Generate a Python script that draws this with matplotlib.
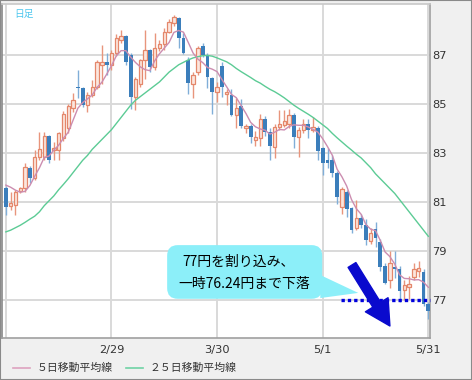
import matplotlib
matplotlib.use('Agg')
import matplotlib.pyplot as plt
from matplotlib.patches import FancyBboxPatch, Polygon, Rectangle
from matplotlib.lines import Line2D
import numpy as np
import pandas as pd

plt.rcParams['font.family'] = ['Noto Sans CJK JP', 'DejaVu Sans']

# daily candles, 2012-01-30 .. 2012-05-31
dates = pd.bdate_range('2012-01-30', '2012-05-31')

opens = [81.57, 80.84, 80.88, 81.45, 81.57, 82.39, 81.98, 82.84, 82.84, 83.69,
         83.12, 83.12, 83.60, 84.00, 84.84, 85.70, 85.65, 84.96, 85.37, 85.70,
         86.60, 86.70, 86.60, 87.10, 87.60, 87.78, 87.00, 85.30, 85.80, 86.80,
         87.20, 86.50, 87.30, 87.45, 87.95, 88.30, 88.50, 87.70, 86.80, 85.80,
         86.30, 87.35, 87.00, 86.05, 85.50, 86.55, 85.40, 85.37, 84.55, 84.90,
         84.00, 84.10, 83.55, 83.60, 84.40, 83.85, 83.25, 84.05, 84.15, 84.20,
         84.55, 83.65, 83.95, 84.20, 83.95, 84.00, 83.20, 82.70, 82.70, 82.20,
         80.80, 81.40, 80.75, 79.95, 80.35, 80.05, 79.40, 79.90, 79.35, 78.40,
         77.80, 78.35, 78.25, 77.40, 77.55, 77.95, 78.20, 78.15, 76.85]
highs = [81.65, 81.41, 81.49, 81.61, 82.59, 82.47, 83.12, 83.86, 83.86, 83.73,
         83.45, 83.86, 84.70, 85.00, 85.45, 86.39, 85.70, 85.49, 85.98, 86.80,
         87.40, 87.10, 87.20, 87.85, 88.00, 87.80, 87.10, 86.10, 86.85, 88.00,
         87.25, 87.90, 87.60, 88.10, 88.45, 88.65, 88.55, 87.90, 86.90, 86.30,
         87.35, 87.50, 87.10, 86.10, 85.90, 86.70, 85.60, 85.60, 85.25, 85.20,
         84.20, 84.20, 83.90, 84.60, 84.50, 84.00, 84.20, 84.75, 84.75, 84.80,
         84.65, 84.05, 84.40, 84.40, 84.45, 84.10, 83.25, 83.20, 82.90, 82.25,
         81.60, 81.50, 80.80, 81.10, 80.50, 80.30, 79.95, 80.20, 79.50, 78.50,
         79.00, 79.00, 78.40, 77.80, 78.00, 78.50, 78.60, 78.25, 76.90]
lows = [80.47, 80.67, 80.47, 81.37, 81.41, 81.78, 81.90, 82.71, 82.71, 82.59,
        82.71, 82.71, 83.50, 83.80, 84.67, 85.24, 84.88, 84.67, 85.29, 85.60,
        85.80, 86.20, 86.40, 86.95, 87.50, 86.60, 84.80, 84.75, 85.70, 86.00,
        86.30, 86.40, 87.15, 87.20, 87.90, 88.20, 87.30, 87.05, 85.40, 85.25,
        86.20, 86.90, 85.65, 84.60, 85.10, 85.30, 84.95, 84.50, 84.00, 84.00,
        83.80, 83.40, 83.30, 83.30, 83.70, 82.70, 82.80, 83.95, 84.05, 84.00,
        83.20, 82.85, 83.80, 83.60, 83.85, 82.70, 82.10, 82.40, 82.00, 80.90,
        80.50, 80.40, 79.75, 79.85, 79.95, 79.25, 79.30, 79.15, 78.20, 77.65,
        77.50, 77.90, 76.90, 77.00, 77.05, 77.80, 77.95, 76.75, 76.24]
closes = [80.80, 80.96, 81.41, 81.57, 82.43, 81.98, 82.84, 83.16, 83.69, 82.71,
          83.20, 83.82, 84.60, 84.90, 85.16, 85.65, 84.96, 85.37, 85.70, 86.70,
          86.70, 86.60, 87.10, 87.70, 87.78, 86.70, 85.30, 86.00, 86.80, 87.20,
          86.50, 87.30, 87.45, 87.95, 88.35, 88.55, 87.70, 87.10, 85.85, 86.20,
          87.30, 87.00, 86.10, 85.50, 85.70, 85.70, 85.50, 84.55, 84.84, 84.10,
          84.10, 83.65, 83.65, 84.40, 83.85, 83.30, 84.05, 84.20, 84.30, 84.55,
          83.65, 83.95, 84.20, 83.95, 84.05, 83.10, 82.60, 82.60, 82.20, 81.20,
          81.55, 80.70, 79.85, 80.35, 80.05, 79.45, 79.75, 79.55, 78.35, 77.70,
          78.50, 78.25, 77.35, 77.60, 77.65, 78.25, 78.30, 76.85, 76.55]
# closes of the four days before the window (for the 5-day average)
prev_closes = [81.4, 82.0, 82.0, 82.25]

ma25 = [79.78, 79.85, 79.95, 80.05, 80.17, 80.3, 80.42, 80.6, 80.85, 81.05,
        81.25, 81.5, 81.72, 81.95, 82.2, 82.45, 82.7, 82.9, 83.15, 83.35,
        83.55, 83.75, 83.95, 84.2, 84.45, 84.7, 84.95, 85.15, 85.3, 85.45,
        85.6, 85.75, 85.9, 86.1, 86.3, 86.45, 86.6, 86.7, 86.8, 86.88,
        86.93, 86.97, 86.98, 86.95, 86.88, 86.8, 86.72, 86.6, 86.45, 86.32,
        86.2, 86.08, 85.95, 85.85, 85.72, 85.6, 85.5, 85.38, 85.25, 85.1,
        84.95, 84.82, 84.7, 84.58, 84.45, 84.3, 84.15, 84.0, 83.8, 83.62,
        83.45, 83.28, 83.12, 82.95, 82.8, 82.6, 82.4, 82.15, 81.95, 81.75,
        81.55, 81.35, 81.1, 80.85, 80.6, 80.35, 80.1, 79.85, 79.6]

tick_dates = ['2012-01-30', '2012-02-29', '2012-03-30', '2012-05-01', '2012-05-31']
y_ticks = [77, 79, 81, 83, 85, 87]

support = 77.0
note_lines = ['77円を割り込み、', '一時76.24円まで下落']

o = np.array(opens); h = np.array(highs); l = np.array(lows); c = np.array(closes)
x = np.arange(len(c))
ma5 = pd.Series(prev_closes + closes).rolling(5).mean().iloc[4:].to_numpy()

fig = plt.figure(figsize=(4.72, 3.80), dpi=100, facecolor='#F0F0F0')
ax = fig.add_axes([2 / 472, 42 / 380, 428 / 472, 334 / 380])
ax.set_facecolor('white')
ax.set_xlim(-0.8, 88.35)
ax.set_ylim(75.45, 89.08)

# grid
tick_pos = [dates.get_loc(pd.Timestamp(d)) for d in tick_dates]
tick_lab = [''] + [f'{pd.Timestamp(d).month}/{pd.Timestamp(d).day}' for d in tick_dates[1:]]
ax.set_xticks(tick_pos)
ax.set_xticklabels(tick_lab)
ax.set_yticks(y_ticks)
ax.grid(True, color='#D9D9D9', lw=1.4, zorder=0)
ax.set_axisbelow(True)
ax.yaxis.tick_right()
ax.tick_params(axis='both', length=0, labelsize=8.2, labelcolor='#333333')
ax.tick_params(axis='y', pad=1.5)
ax.tick_params(axis='x', pad=5)
for lab in ax.get_xticklabels() + ax.get_yticklabels():
    lab.set_family('DejaVu Sans')
for side, col in [('left', '#888888'), ('bottom', '#A0A0A0'), ('right', '#A0A0A0'), ('top', '#C8C8C8')]:
    ax.spines[side].set_color(col)
    ax.spines[side].set_linewidth(1.2)

# candles
up = c >= o
bottom = np.minimum(o, c)
height = np.maximum(np.abs(c - o), 0.05)
ax.vlines(x[up], l[up], h[up], color='#E8957C', lw=1.0, zorder=2)
ax.vlines(x[~up], l[~up], h[~up], color='#80AED8', lw=1.0, zorder=2)
ax.bar(x[up], height[up], bottom=bottom[up], width=0.72, facecolor='#FCE6DE',
       edgecolor='#E4876B', linewidth=0.9, zorder=3)
ax.bar(x[~up], height[~up], bottom=bottom[~up], width=0.78, color='#3B7EBB', zorder=3)

# moving averages
ax.plot(x, ma25, color='#5CCB95', lw=1.0, zorder=4)
ax.plot(x, ma5, color='#CC8DB0', lw=1.0, zorder=4)

# callout
box = FancyBboxPatch((33.6, 77.05), 32.3, 2.19,
                     boxstyle='round,pad=0,rounding_size=2.2',
                     mutation_aspect=4.8 / 24.5, fc='#8CEFF9', ec='none', zorder=5)
ax.add_patch(box)
ax.add_patch(Polygon([(65.5, 78.02), (65.5, 77.08), (73.4, 77.29)], closed=True,
                     fc='#8CEFF9', ec='none', zorder=5))
ax.text(48.4, 78.55, note_lines[0], ha='center', va='center', fontsize=10, zorder=6)
ax.text(49.6, 77.65, note_lines[1], ha='center', va='center', fontsize=10, zorder=6)

# 77 yen line and arrow
ax.plot([69.8, 88.35], [support, support], color='#0000DD', lw=2.4,
        linestyle=(0, (1, 0.9)), zorder=6, clip_on=False)
ax.annotate('', xy=(80.0, 75.94), xytext=(72.1, 78.43),
            arrowprops=dict(arrowstyle='simple,head_length=1.5,head_width=1.6,tail_width=0.55',
                            mutation_scale=12, color='#0A0ACD', shrinkA=0, shrinkB=0),
            zorder=7)

ax.text(0.028, 0.985, '日足', transform=ax.transAxes, ha='left', va='top',
        fontsize=7, color='#4CC6EE')

# legend
fig.add_artist(Line2D([13 / 472, 30 / 472], [0.032, 0.032], color='#DDA3BF', lw=1.2))
fig.text(37 / 472, 0.032, '５日移動平均線', va='center', fontsize=7.8, color='#333333')
fig.add_artist(Line2D([126 / 472, 143 / 472], [0.032, 0.032], color='#6FD3A5', lw=1.2))
fig.text(150 / 472, 0.032, '２５日移動平均線', va='center', fontsize=7.8, color='#333333')

fig.add_artist(Rectangle((0, 0), 1, 1, transform=fig.transFigure, fill=False,
                         ec='#8A8A8A', lw=1.5))

fig.savefig('out.png', dpi=100, facecolor=fig.get_facecolor())
